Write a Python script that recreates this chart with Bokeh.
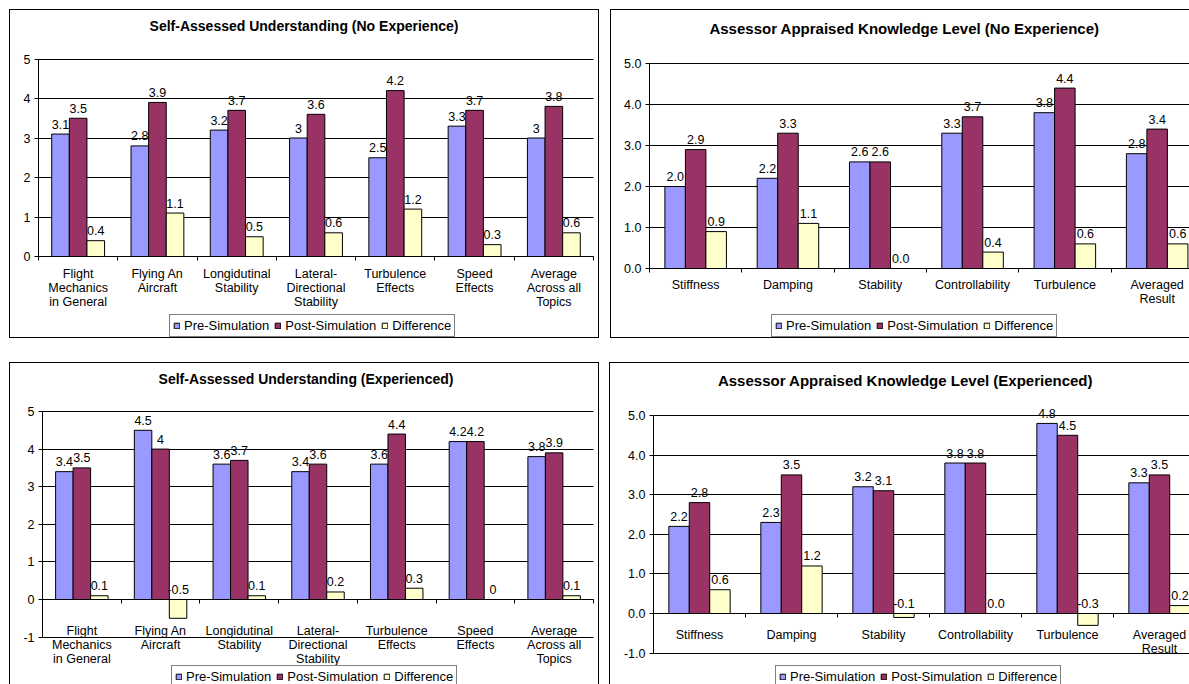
from bokeh.plotting import figure
from bokeh.models import (ColumnDataSource, Range1d, FixedTicker, NumeralTickFormatter,
                          Legend, LegendItem, Spacer, LinearAxis, Grid, Label)
from bokeh.layouts import row, column
from bokeh.core.properties import value
from bokeh.embed import file_html
from bokeh.resources import INLINE
import numpy as np

FONT = "Liberation Sans"

# ---- categories -------------------------------------------------------------
self_topics = ["Flight\nMechanics\nin General", "Flying An\nAircraft",
               "Longidutinal\nStability", "Lateral-\nDirectional\nStability",
               "Turbulence\nEffects", "Speed\nEffects", "Average\nAcross all\nTopics"]
assessor_topics = ["Stiffness", "Damping", "Stability", "Controllability",
                   "Turbulence", "Averaged\nResult"]

series_names = ["Pre-Simulation", "Post-Simulation", "Difference"]
series_colors = ["#9999FF", "#993366", "#FFFFCC"]

# ---- self-assessed understanding, no experience -----------------------------
self_noexp_pre = [3.1, 2.8, 3.2, 3.0, 2.5, 3.3, 3.0]
self_noexp_post = [3.5, 3.9, 3.7, 3.6, 4.2, 3.7, 3.8]
self_noexp_diff = [0.4, 1.1, 0.5, 0.6, 1.2, 0.3, 0.6]

# ---- assessor appraised knowledge, no experience ----------------------------
assess_noexp_pre = [2.0, 2.2, 2.6, 3.3, 3.8, 2.8]
assess_noexp_post = [2.9, 3.3, 2.6, 3.7, 4.4, 3.4]
assess_noexp_diff = [0.9, 1.1, 0.0, 0.4, 0.6, 0.6]

# ---- self-assessed understanding, experienced -------------------------------
self_exp_pre = [3.4, 4.5, 3.6, 3.4, 3.6, 4.2, 3.8]
self_exp_post = [3.5, 4.0, 3.7, 3.6, 4.4, 4.2, 3.9]
self_exp_diff = [0.1, -0.5, 0.1, 0.2, 0.3, 0.0, 0.1]

# ---- assessor appraised knowledge, experienced ------------------------------
assess_exp_pre = [2.2, 2.3, 3.2, 3.8, 4.8, 3.3]
assess_exp_post = [2.8, 3.5, 3.1, 3.8, 4.5, 3.5]
assess_exp_diff = [0.6, 1.2, -0.1, 0.0, -0.3, 0.2]

# value axis ticks
ticks_pos = [0, 1, 2, 3, 4, 5]
ticks_neg = [-1, 0, 1, 2, 3, 4, 5]

TXT = "12.5px"
LEGEND_TXT = "13px"


def general(v):
    return f"{v:g}"


def one_dec(v):
    return f"{v:.1f}"


def panel(title, title_size, cats, series, fmt, yticks, num_fmt, geo):
    """One chart box.  geo holds pixel placement inside the box:
    w, h        box size
    left        x pixel of the value axis
    cat         pixel width of one category
    top         y pixel of the highest value tick
    unit        pixels per value unit
    title       (x, y) pixel centre of the title
    standoff    gap between zero line and category labels
    legend      (x, y) bottom-left pixel offset of the legend box
    """
    n = len(cats)
    w, h, left, cat, top, unit = (geo[k] for k in ("w", "h", "left", "cat", "top", "unit"))
    ymin, ymax = yticks[0], yticks[-1]
    x0 = -left / cat
    x1 = (w - left) / cat
    y1 = ymax + top / unit
    y0 = y1 - h / unit

    p = figure(width=w, height=h, output_backend="svg", toolbar_location=None,
               title=None, x_range=Range1d(x0, x1), y_range=Range1d(y0, y1),
               x_axis_location=None, y_axis_location=None,
               min_border=0, background_fill_color="white",
               border_fill_color="white", outline_line_color=None,
               styles={"outline": "1px solid black"})
    p.xgrid.visible = False
    p.ygrid.visible = False

    # horizontal gridlines limited to the plot area
    yticker = FixedTicker(ticks=yticks)
    grid = Grid(dimension=1, ticker=yticker, bounds=(ymin, ymax),
                grid_line_color="black", grid_line_width=1)
    if "cross_bounds" in Grid.properties():
        grid.cross_bounds = (0, n)
    p.add_layout(grid)

    bw = 1 / 4.5
    centers = np.arange(n) + 0.5
    items = []
    for k, (name, color, vals) in enumerate(zip(series_names, series_colors, series)):
        xs = centers + (k - 1) * bw
        src = ColumnDataSource(dict(
            x=xs, top=vals, ly=[max(v, 0) for v in vals], txt=[fmt(v) for v in vals]))
        r = p.vbar(x="x", top="top", bottom=0, width=bw, source=src,
                   fill_color=color, line_color="black", line_width=1)
        p.text(x="x", y="ly", text="txt", source=src, text_align="center",
               text_baseline="alphabetic", y_offset=-10, text_font=value(FONT),
               text_font_size=TXT, text_color="black")
        items.append(LegendItem(label=name, renderers=[r]))

    # value axis
    ya = LinearAxis(fixed_location=0, bounds=(ymin, ymax), ticker=yticker,
                    formatter=NumeralTickFormatter(format=num_fmt))
    ya.major_tick_in = 0
    ya.major_tick_out = 4
    ya.major_tick_line_color = "black"
    ya.minor_tick_line_color = None
    ya.axis_line_color = "black"
    ya.major_label_standoff = 4
    ya.major_label_text_font = FONT
    ya.major_label_text_font_size = TXT
    ya.major_label_text_color = "black"
    p.add_layout(ya, "left")

    # category axis on the zero line, tick marks between categories
    xa = LinearAxis(fixed_location=0, bounds=(0, n),
                    ticker=FixedTicker(ticks=list(centers), minor_ticks=list(range(n + 1))))
    xa.major_label_overrides = {float(c): t for c, t in zip(centers, cats)}
    xa.major_tick_in = 0
    xa.major_tick_out = 0
    xa.minor_tick_in = 0
    xa.minor_tick_out = 4
    xa.minor_tick_line_color = "black"
    xa.axis_line_color = "black"
    xa.major_label_standoff = geo["standoff"]
    xa.major_label_text_font = FONT
    xa.major_label_text_font_size = TXT
    xa.major_label_text_color = "black"
    xa.major_label_text_line_height = 1.0
    p.add_layout(xa, "below")

    tx, ty = geo["title"]
    p.add_layout(Label(x=(tx - left) / cat, y=ymax + (top - ty) / unit, text=title,
                       text_align="center", text_baseline="middle",
                       text_font=FONT, text_font_size=title_size,
                       text_font_style="bold", text_color="black"))

    legend = Legend(items=items, location=geo["legend"], orientation="horizontal",
                    border_line_color="black", border_line_width=1,
                    background_fill_color="white", background_fill_alpha=1,
                    padding=3, spacing=5, label_standoff=4, glyph_width=7,
                    glyph_height=7, label_height=9, label_text_font=FONT,
                    label_text_font_size=LEGEND_TXT, label_text_color="black", margin=0)
    p.add_layout(legend)
    return p


geo_tl = dict(w=588, h=327, left=28, cat=555 / 7, top=48.5, unit=39.5,
              title=(293.5, 15), standoff=6, legend=(159, 0))
geo_tr = dict(w=578, h=327, left=38, cat=92.3, top=53, unit=41,
              title=(293, 18), standoff=5, legend=(160, 0))
geo_bl = dict(w=588, h=321, left=32, cat=551 / 7, top=48, unit=37.6,
              title=(295.5, 15), standoff=20, legend=(161, -4))
geo_br = dict(w=579, h=321, left=43, cat=92.0, top=52, unit=39.6,
              title=(295, 17), standoff=10, legend=(165, -4))

tl = panel("Self-Assessed Understanding (No Experience)", "14px", self_topics,
           [self_noexp_pre, self_noexp_post, self_noexp_diff], general, ticks_pos, "0", geo_tl)
tr = panel("Assessor Appraised Knowledge Level (No Experience)", "15px", assessor_topics,
           [assess_noexp_pre, assess_noexp_post, assess_noexp_diff], one_dec, ticks_pos, "0.0", geo_tr)
bl = panel("Self-Assessed Understanding (Experienced)", "14px", self_topics,
           [self_exp_pre, self_exp_post, self_exp_diff], general, ticks_neg, "0", geo_bl)
br = panel("Assessor Appraised Knowledge Level (Experienced)", "15px", assessor_topics,
           [assess_exp_pre, assess_exp_post, assess_exp_diff], one_dec, ticks_neg, "0.0", geo_br)

page = column(
    Spacer(width=1189, height=10),
    row(Spacer(width=10, height=327), tl, Spacer(width=13, height=327), tr),
    Spacer(width=1189, height=26),
    row(Spacer(width=10, height=321), bl, Spacer(width=12, height=321), br),
)

open("out.html", "w").write(file_html(page, INLINE))
